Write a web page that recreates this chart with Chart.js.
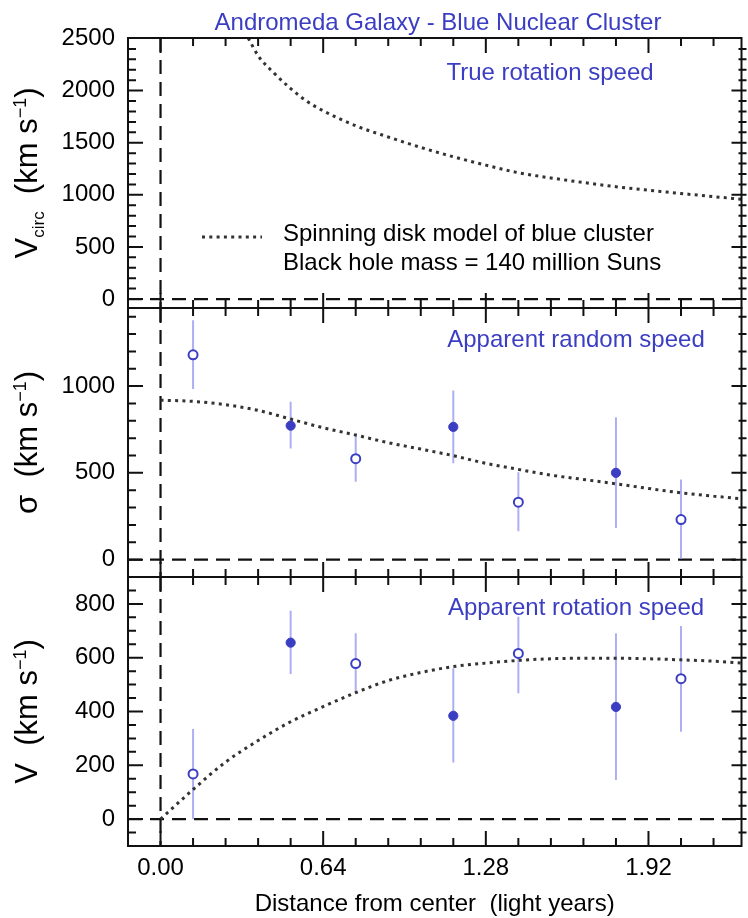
<!DOCTYPE html>
<html>
<head>
<meta charset="utf-8">
<script src="https://cdn.jsdelivr.net/npm/chart.js@4.4.1/dist/chart.umd.min.js"></script>
<style>
html,body{margin:0;padding:0;background:#fff;}
#wrap{position:relative;width:748px;height:918px;overflow:hidden;background:#fff;}
#wrap canvas{position:absolute;left:0;top:0;}
</style>
</head>
<body>
<div id="wrap">
<canvas id="c1" width="748" height="918"></canvas>
<canvas id="c2" width="748" height="918"></canvas>
<canvas id="c3" width="748" height="918"></canvas>
</div>
<script>
// ---------------- data ----------------
const xMajorTicks = [0, 0.64, 1.28, 1.92];
const xTickLabels = ['0.00', '0.64', '1.28', '1.92'];

const vcircMajorTicks = [0, 500, 1000, 1500, 2000, 2500];
const sigmaMajorTicks = [0, 500, 1000];
const vMajorTicks = [0, 200, 400, 600, 800];

// observed points (distance in light years)
const obsX = [0.128, 0.512, 0.768, 1.152, 1.408, 1.792, 2.048];
const obsFilled = [false, true, false, true, false, true, false];

const sigmaObs = [1180, 772, 582, 765, 331, 500, 231];
const sigmaLo  = [983, 640, 449, 555, 164, 183, 6];
const sigmaHi  = [1379, 910, 713, 975, 503, 821, 462];

const vObs = [168, 656, 578, 384, 616, 417, 522];
const vLo  = [0, 539, 471, 210, 468, 145, 325];
const vHi  = [335, 775, 691, 561, 752, 691, 718];

// model curves
const modelX = [0, 0.128, 0.256, 0.384, 0.512, 0.64, 0.768, 0.896, 1.024, 1.152,
                1.28, 1.408, 1.536, 1.664, 1.792, 1.92, 2.048, 2.176, 2.286];
const sigmaModel = [919, 912, 893, 860, 810, 760, 718, 674, 637, 599,
                    555, 520, 487, 462, 437, 410, 385, 366, 350];
const vModel = [0, 110, 212, 292, 362, 418, 470, 515, 545, 567,
                580, 590, 596, 598, 598, 596, 592, 587, 580];

const vcircX = [0.345, 0.384, 0.448, 0.512, 0.576, 0.64, 0.768, 0.896, 1.024, 1.152,
                1.28, 1.408, 1.536, 1.664, 1.792, 1.92, 2.048, 2.176, 2.286];
const vcircModel = [2505, 2335, 2165, 2020, 1898, 1806, 1663, 1555, 1455, 1365,
                    1285, 1212, 1162, 1118, 1078, 1045, 1013, 983, 957];

// ---------------- style / layout ----------------
const FONT = "'Liberation Sans', Arial, Helvetica, sans-serif";
const BLUE = '#3b3ec2';
const ERR = '#adaff3';
const INK = '#111';
const xMin = -0.128, xMax = 2.286, xMinorStep = 0.128;

Chart.defaults.font.family = FONT;
Chart.defaults.color = '#000';

function isMajor(v, arr) { return arr.some(m => Math.abs(m - v) < 1e-6); }

function pts(xs, ys) { return xs.map((x, i) => ({x: x, y: ys[i]})); }
function obsPoints(vals, filled) {
  return obsX.map((x, i) => ({x: x, y: vals[i]})).filter((p, i) => obsFilled[i] === filled);
}
function errSegments(lo, hi) {
  const d = [];
  obsX.forEach((x, i) => { d.push({x: x, y: lo[i]}, {x: x, y: hi[i]}, {x: x, y: null}); });
  return d;
}

function drawYTitle(ctx, baseX, cy, parts) {
  ctx.save();
  ctx.translate(baseX, cy);
  ctx.rotate(-Math.PI / 2);
  let total = 0;
  parts.forEach(p => { ctx.font = p.size + 'px ' + FONT; p.w = ctx.measureText(p.text).width; total += p.w; });
  let cx = -total / 2;
  ctx.textAlign = 'left';
  ctx.textBaseline = 'alphabetic';
  ctx.fillStyle = '#000';
  parts.forEach(p => { ctx.font = p.size + 'px ' + FONT; ctx.fillText(p.text, cx, p.dy); cx += p.w; });
  ctx.restore();
}

const panelText = {
  c1: {
    items: [
      {text: 'Andromeda Galaxy - Blue Nuclear Cluster', x: 438, y: 30, size: 24, color: BLUE, align: 'center'},
      {text: 'True rotation speed', x: 550, y: 80, size: 24, color: BLUE, align: 'center'},
      {text: 'Spinning disk model of blue cluster', x: 283, y: 241, size: 24, color: '#000', align: 'left'},
      {text: 'Black hole mass = 140 million Suns', x: 283, y: 270, size: 24, color: '#000', align: 'left'}
    ],
    legendLine: {x0: 202, x1: 262, y: 237},
    yTitle: [{text: 'V', size: 31, dy: 0}, {text: 'circ', size: 17, dy: 7},
             {text: '  (km s', size: 31, dy: 0}, {text: '\u22121', size: 18, dy: -11}, {text: ')', size: 31, dy: 0}]
  },
  c2: {
    items: [{text: 'Apparent random speed', x: 576, y: 347, size: 24, color: BLUE, align: 'center'}],
    yTitle: [{text: '\u03C3', size: 31, dy: 0}, {text: '  (km s', size: 31, dy: 0},
             {text: '\u22121', size: 18, dy: -11}, {text: ')', size: 31, dy: 0}]
  },
  c3: {
    items: [{text: 'Apparent rotation speed', x: 576, y: 615, size: 24, color: BLUE, align: 'center'}],
    yTitle: [{text: 'V', size: 31, dy: 0}, {text: '  (km s', size: 31, dy: 0},
             {text: '\u22121', size: 18, dy: -11}, {text: ')', size: 31, dy: 0}]
  }
};

const panelCfg = {};

const framePlugin = {
  id: 'frame',
  afterDatasetsDraw(chart) {
    const o = panelCfg[chart.canvas.id];
    if (!o) return;
    const {ctx, chartArea: a} = chart;
    const xs = chart.scales.x, ys = chart.scales.y;
    ctx.save();
    ctx.strokeStyle = INK;
    ctx.lineWidth = 2;
    ctx.beginPath();
    const nx = Math.floor(xMax / xMinorStep + 1e-9);
    for (let k = 0; k <= nx; k++) {
      const v = k * xMinorStep;
      const px = xs.getPixelForValue(v);
      if (px > a.right - 1) continue;
      const len = isMajor(v, xMajorTicks) ? 15 : 8;
      ctx.moveTo(px, a.top); ctx.lineTo(px, a.top + len);
      ctx.moveTo(px, a.bottom); ctx.lineTo(px, a.bottom - len);
    }
    const k0 = Math.ceil(o.yMin / o.yMinorStep), k1 = Math.floor(o.yMax / o.yMinorStep);
    for (let k = k0; k <= k1; k++) {
      const v = k * o.yMinorStep;
      const py = ys.getPixelForValue(v);
      if (py < a.top + 1 || py > a.bottom - 1) continue;
      const len = isMajor(v, o.yMajor) ? 15 : 8;
      ctx.moveTo(a.left, py); ctx.lineTo(a.left + len, py);
      ctx.moveTo(a.right + 5, py); ctx.lineTo(a.right + 5 - len, py);
    }
    ctx.stroke();
    ctx.strokeRect(a.left, a.top, a.right - a.left, a.bottom - a.top);
    ctx.restore();
  }
};

const textPlugin = {
  id: 'texts',
  afterDraw(chart) {
    const t = panelText[chart.canvas.id];
    if (!t) return;
    const ctx = chart.ctx;
    const a = chart.chartArea;
    ctx.save();
    t.items.forEach(it => {
      ctx.font = it.size + 'px ' + FONT;
      ctx.fillStyle = it.color;
      ctx.textAlign = it.align;
      ctx.textBaseline = 'alphabetic';
      ctx.fillText(it.text, it.x, it.y);
    });
    if (t.legendLine) {
      ctx.strokeStyle = '#333';
      ctx.lineWidth = 3;
      ctx.setLineDash([3, 4.3]);
      ctx.beginPath();
      ctx.moveTo(t.legendLine.x0, t.legendLine.y);
      ctx.lineTo(t.legendLine.x1, t.legendLine.y);
      ctx.stroke();
      ctx.setLineDash([]);
    }
    drawYTitle(ctx, 37, (a.top + a.bottom) / 2, t.yTitle);
    ctx.restore();
  }
};

function makePanel(id, cfg) {
  panelCfg[id] = cfg;
  const xScale = cfg.showX ? {
    type: 'linear', min: xMin, max: xMax,
    grid: {display: false, drawTicks: false},
    border: {display: false},
    afterBuildTicks: axis => { axis.ticks = xMajorTicks.map(v => ({value: v})); },
    afterFit: axis => { axis.height = 72; },
    ticks: {
      autoSkip: false, maxRotation: 0, padding: 8, color: '#000',
      font: {size: 24, family: FONT},
      callback: (v, i) => xTickLabels[i]
    },
    title: {display: true, text: 'Distance from center  (light years)', color: '#000',
            font: {size: 24, family: FONT, lineHeight: 1.1}, padding: 0}
  } : {type: 'linear', min: xMin, max: xMax, display: false};

  return new Chart(document.getElementById(id), {
    type: 'scatter',
    data: {datasets: [
      {data: obsPoints(cfg.obs, true), pointRadius: 4.6, pointBackgroundColor: BLUE,
       pointBorderColor: BLUE, pointBorderWidth: 1, showLine: false},
      {data: obsPoints(cfg.obs, false), pointRadius: 4.5, pointBackgroundColor: '#fff',
       pointBorderColor: BLUE, pointBorderWidth: 2, showLine: false},
      {data: pts(cfg.modelX, cfg.model), showLine: true, pointRadius: 0, borderColor: '#333',
       borderWidth: 3, borderDash: [3, 4.3], cubicInterpolationMode: 'monotone', fill: false},
      {data: errSegments(cfg.lo, cfg.hi), showLine: true, spanGaps: false, pointRadius: 0,
       borderColor: ERR, borderWidth: 2},
      {data: [{x: xMin, y: 0}, {x: xMax, y: 0}], showLine: true, pointRadius: 0,
       borderColor: INK, borderWidth: 2.2, borderDash: [14, 8]},
      {data: [{x: 0, y: cfg.yMax}, {x: 0, y: cfg.yMin}], showLine: true, pointRadius: 0,
       borderColor: INK, borderWidth: 2.2, borderDash: [14, 8]}
    ]},
    options: {
      responsive: false,
      animation: false,
      events: [],
      layout: {padding: cfg.padding},
      plugins: {legend: {display: false}, tooltip: {enabled: false}, title: {display: false}},
      scales: {
        x: xScale,
        y: {
          type: 'linear', min: cfg.yMin, max: cfg.yMax,
          grid: {display: false, drawTicks: false},
          border: {display: false},
          afterBuildTicks: axis => { axis.ticks = cfg.yMajor.map(v => ({value: v})); },
          afterFit: axis => { axis.width = 128; },
          ticks: {autoSkip: false, padding: 13, color: '#000', font: {size: 24, family: FONT},
                  callback: v => String(v)}
        }
      }
    },
    plugins: [framePlugin, textPlugin]
  });
}

const emptyObs = obsX.map(() => null);

makePanel('c1', {
  showX: false, padding: {top: 38, bottom: 610, left: 0, right: 5},
  yMin: -86, yMax: 2505, yMinorStep: 100, yMajor: vcircMajorTicks,
  obs: emptyObs, lo: emptyObs, hi: emptyObs, modelX: vcircX, model: vcircModel
});
makePanel('c2', {
  showX: false, padding: {top: 308, bottom: 341, left: 0, right: 5},
  yMin: -100, yMax: 1450, yMinorStep: 100, yMajor: sigmaMajorTicks,
  obs: sigmaObs, lo: sigmaLo, hi: sigmaHi, modelX: modelX, model: sigmaModel
});
makePanel('c3', {
  showX: true, padding: {top: 577, bottom: 0, left: 0, right: 5},
  yMin: -100, yMax: 900, yMinorStep: 50, yMajor: vMajorTicks,
  obs: vObs, lo: vLo, hi: vHi, modelX: modelX, model: vModel
});
</script>
</body>
</html>
